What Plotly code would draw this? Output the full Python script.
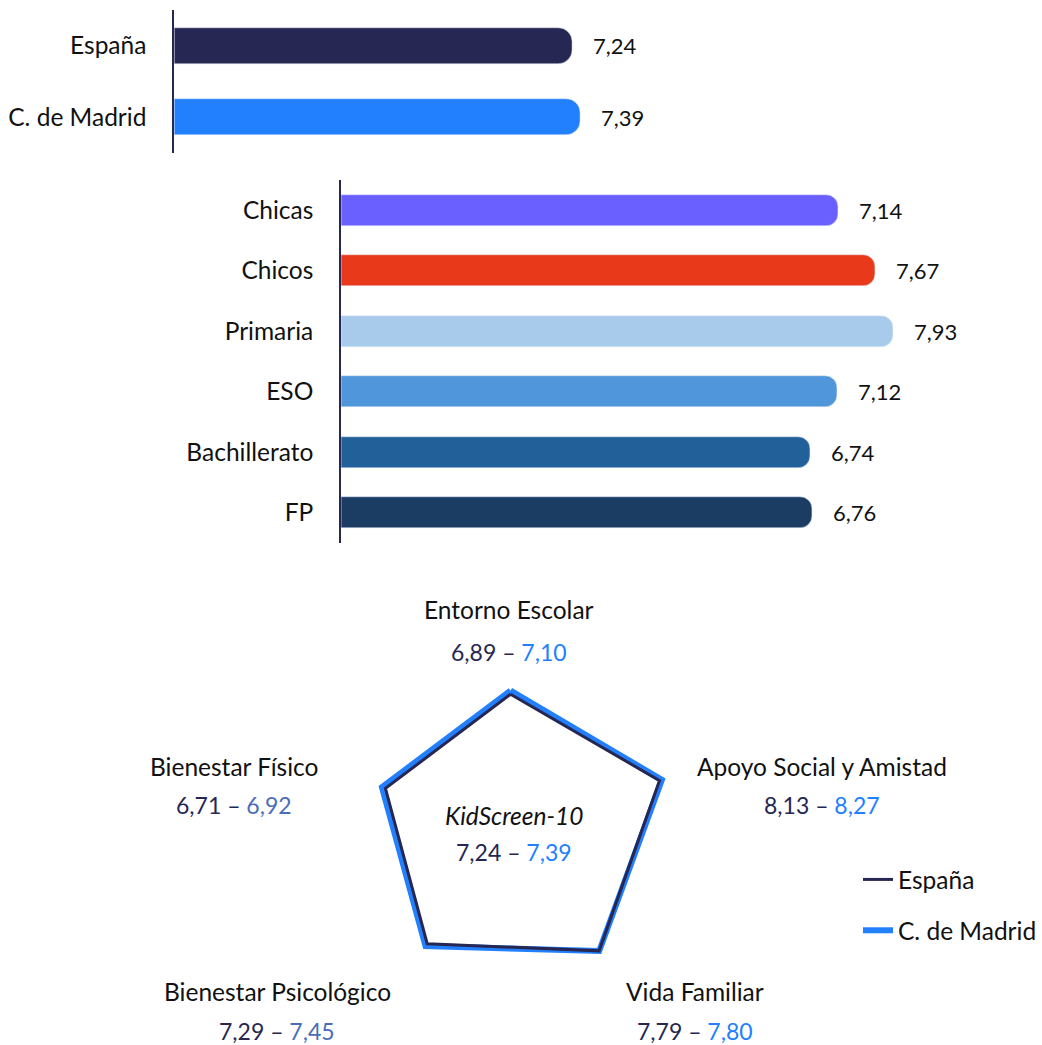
import plotly.graph_objects as go

# datos
regiones = ["España", "C. de Madrid"]
valores_region = [7.24, 7.39]
colores_region = ["#262752", "#2280ff"]

grupos = ["Chicas", "Chicos", "Primaria", "ESO", "Bachillerato", "FP"]
valores_grupo = [7.14, 7.67, 7.93, 7.12, 6.74, 6.76]
colores_grupo = ["#6a5fff", "#e8391a", "#a8cbec", "#5096da", "#22609a", "#1b3d63"]

dimensiones = ["Entorno Escolar", "Apoyo Social y Amistad", "Vida Familiar",
               "Bienestar Psicológico", "Bienestar Físico"]
espana = [6.89, 8.13, 7.79, 7.29, 6.71]
madrid = [7.10, 8.27, 7.80, 7.45, 6.92]
kidscreen = [7.24, 7.39]

FUENTE = "Lato"
TAM = 24.5      # textos
TAM_NUM = 22    # numeros
NAVY = "#262752"
AZUL = "#2280ff"
ACERO = "#4a6cb8"
TEXTO = "#111111"
W, H = 1042, 1045

def coma(v):
    return f"{v:.2f}".replace(".", ",")

fig = go.Figure()

# barras superiores
fig.add_trace(go.Bar(
    x=valores_region, y=regiones, orientation="h",
    marker=dict(color=colores_region, cornerradius=14),
    width=0.5, showlegend=False, hoverinfo="skip",
    xaxis="x", yaxis="y"
))

# barras por grupo
fig.add_trace(go.Bar(
    x=valores_grupo, y=grupos, orientation="h",
    marker=dict(color=colores_grupo, cornerradius=12),
    width=0.52, showlegend=False, hoverinfo="skip",
    xaxis="x2", yaxis="y2"
))

# radar
cat_cerrado = dimensiones + dimensiones[:1]
fig.add_trace(go.Scatterpolar(
    r=madrid + madrid[:1], theta=cat_cerrado,
    mode="lines", line=dict(color=AZUL, width=6),
    name="C. de Madrid", legendgroup="mad", legendrank=2,
    subplot="polar", hoverinfo="skip"
))
fig.add_trace(go.Scatterpolar(
    r=espana + espana[:1], theta=cat_cerrado,
    mode="lines", line=dict(color=NAVY, width=3),
    name="España", legendgroup="esp", legendrank=1,
    subplot="polar", hoverinfo="skip"
))

anots = []
for v, c in zip(valores_region, regiones):
    anots.append(dict(x=v, y=c, xref="x", yref="y", text=coma(v), showarrow=False,
                      xanchor="left", xshift=19, font=dict(size=TAM_NUM, color=TEXTO)))
for v, c in zip(valores_grupo, grupos):
    anots.append(dict(x=v, y=c, xref="x2", yref="y2", text=coma(v), showarrow=False,
                      xanchor="left", xshift=19, font=dict(size=TAM_NUM, color=TEXTO)))

# etiquetas del radar (centro x, y del nombre, y de los valores) en pixeles
pos = {
    "Entorno Escolar": (512, 609, 652),
    "Apoyo Social y Amistad": (828, 766, 805),
    "Vida Familiar": (700, 991, 1031),
    "Bienestar Psicológico": (279, 991, 1031),
    "Bienestar Físico": (236, 766, 805),
}
segundo_color = {"Bienestar Psicológico": ACERO, "Bienestar Físico": ACERO}

def rango(e, m, col):
    return (f"<span style='color:{NAVY}'>{coma(e)} – </span>"
            f"<span style='color:{col}'>{coma(m)}</span>")

for d, e, m in zip(dimensiones, espana, madrid):
    px, y1, y2 = pos[d]
    col = segundo_color.get(d, AZUL)
    anots.append(dict(x=px / W, y=1 - y1 / H, xref="paper", yref="paper",
                      xanchor="center", yanchor="middle", text=d, showarrow=False,
                      font=dict(size=TAM, color=TEXTO)))
    anots.append(dict(x=px / W, y=1 - y2 / H, xref="paper", yref="paper",
                      xanchor="center", yanchor="middle", text=rango(e, m, col),
                      showarrow=False, font=dict(size=TAM_NUM + 1)))
anots.append(dict(x=517 / W, y=1 - 816 / H, xref="paper", yref="paper",
                  xanchor="center", yanchor="middle", text="<i>KidScreen-10</i>",
                  showarrow=False, font=dict(size=TAM, color=TEXTO)))
anots.append(dict(x=517 / W, y=1 - 852 / H, xref="paper", yref="paper",
                  xanchor="center", yanchor="middle",
                  text=rango(kidscreen[0], kidscreen[1], AZUL),
                  showarrow=False, font=dict(size=TAM_NUM + 1)))

# radar: centro (514, 829), radio exterior 173 px
cx, cy, R = 514, 829, 173.2

fig.update_layout(
    width=W, height=H,
    margin=dict(l=0, r=0, t=0, b=0),
    paper_bgcolor="white", plot_bgcolor="white",
    font=dict(family=FUENTE, size=TAM, color=TEXTO),
    bargap=0,
    xaxis=dict(domain=[175.5 / W, 1], range=[0, (W - 175.5) / 55.3], visible=False,
               anchor="y"),
    yaxis=dict(domain=[1 - 153 / H, 1 - 10 / H], autorange="reversed",
               anchor="x", showline=True, linecolor=NAVY, linewidth=2,
               showgrid=False, ticks="outside", ticklen=21,
               tickcolor="rgba(0,0,0,0)", tickfont=dict(size=TAM, color=TEXTO)),
    xaxis2=dict(domain=[343.5 / W, 1], range=[0, (W - 343.5) / 70.1], visible=False,
                anchor="y2"),
    yaxis2=dict(domain=[1 - 543 / H, 1 - 180 / H], autorange="reversed",
                anchor="x2", showline=True, linecolor=NAVY, linewidth=2,
                showgrid=False, ticks="outside", ticklen=21,
                tickcolor="rgba(0,0,0,0)", tickfont=dict(size=TAM, color=TEXTO)),
    polar=dict(
        domain=dict(x=[(cx - R) / W, (cx + R) / W],
                    y=[1 - (cy + R) / H, 1 - (cy - R) / H]),
        bgcolor="rgba(0,0,0,0)",
        radialaxis=dict(range=[-0.73, 9.0], visible=False),
        angularaxis=dict(rotation=90, direction="clockwise", showline=False,
                         showgrid=False, showticklabels=False, ticks=""),
    ),
    legend=dict(x=864 / W, y=1 - 857 / H, xanchor="left", yanchor="top",
                traceorder="grouped", font=dict(size=TAM, color=TEXTO),
                bgcolor="rgba(0,0,0,0)", tracegroupgap=16, itemwidth=30),
    annotations=anots,
)

# sin margen del body para que la figura ocupe la ventana exacta
fig.write_html("out.html", config={"displayModeBar": False},
               post_script="document.body.style.margin='0px';")
